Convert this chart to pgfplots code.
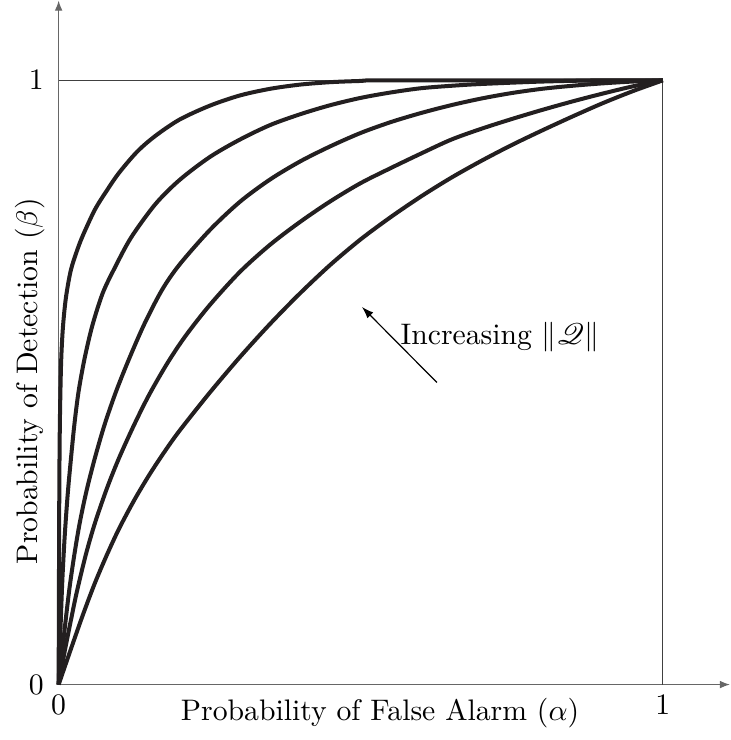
\documentclass[border=0pt]{standalone}
\usepackage{pgfplots}
\pgfplotsset{compat=1.18}
\usepackage{mathrsfs}
\usetikzlibrary{arrows.meta}
\definecolor{curve}{RGB}{35,31,32}
\begin{document}
\begin{tikzpicture}
\begin{axis}[
  x=203.4pt, y=203.4pt,
  xmin=0, xmax=1.111, ymin=0, ymax=1.132,
  axis lines=left,
  axis line style={black!60, line width=0.4pt, -{Latex[length=3.4pt,width=2.6pt]}},
  xtick={0,1}, ytick={0,1},
  major tick length=0pt,
  yticklabel style={xshift=-1.5pt},
  clip=false,
  enlargelimits=false,
]
% frame lines at beta=1 and alpha=1
\addplot[black!75, line width=0.4pt] coordinates {(0,1) (1,1) (1,0)};
% curve 1 (largest ||Q||)
\addplot[curve, line width=1.35pt, smooth] coordinates {
(0,0) (0.001,0.30) (0.002,0.43) (0.004,0.53) (0.007,0.59) (0.012,0.64)
(0.02,0.685) (0.03,0.717) (0.04,0.743) (0.06,0.786) (0.08,0.818) (0.1,0.847)
(0.13,0.882) (0.16,0.908) (0.2,0.935) (0.25,0.958) (0.3,0.975) (0.35,0.986)
(0.4,0.993) (0.45,0.997) (0.5,0.999) (0.55,1) (1,1)};
% curve 2
\addplot[curve, line width=1.35pt, smooth] coordinates {
(0,0) (0.003,0.09) (0.006,0.17) (0.01,0.245) (0.015,0.315) (0.02,0.37)
(0.026,0.43) (0.033,0.485) (0.043,0.54) (0.056,0.595) (0.073,0.648)
(0.093,0.69) (0.12,0.74) (0.16,0.795) (0.2,0.835) (0.25,0.873) (0.3,0.902)
(0.35,0.926) (0.4,0.944) (0.45,0.959) (0.5,0.971) (0.55,0.980) (0.6,0.987)
(0.65,0.991) (0.7,0.994) (0.8,0.998) (0.9,1) (1,1)};
% curve 3
\addplot[curve, line width=1.35pt, smooth] coordinates {
(0,0) (0.005,0.046) (0.011,0.101) (0.018,0.16) (0.026,0.215) (0.035,0.268)
(0.046,0.32) (0.06,0.375) (0.076,0.43) (0.095,0.485) (0.117,0.54)
(0.142,0.597) (0.171,0.653) (0.2,0.695) (0.25,0.752) (0.3,0.799)
(0.35,0.836) (0.4,0.866) (0.45,0.891) (0.5,0.913) (0.55,0.931) (0.6,0.946)
(0.65,0.959) (0.7,0.970) (0.75,0.979) (0.8,0.986) (0.85,0.991) (0.9,0.995)
(0.95,0.998) (1,1)};
% curve 4
\addplot[curve, line width=1.35pt, smooth] coordinates {
(0,0) (0.01,0.055) (0.02,0.105) (0.03,0.153) (0.045,0.215) (0.06,0.267)
(0.08,0.325) (0.1,0.375) (0.125,0.43) (0.15,0.48) (0.18,0.532) (0.21,0.577)
(0.25,0.628) (0.3,0.683) (0.35,0.728) (0.4,0.766) (0.45,0.800) (0.5,0.83)
(0.55,0.855) (0.6,0.879) (0.65,0.902) (0.7,0.920) (0.75,0.936) (0.8,0.951)
(0.85,0.965) (0.9,0.978) (0.95,0.99) (1,1)};
% curve 5 (smallest ||Q||)
\addplot[curve, line width=1.35pt, smooth] coordinates {
(0,0) (0.02,0.058) (0.04,0.115) (0.06,0.168) (0.08,0.215) (0.1,0.258)
(0.125,0.305) (0.15,0.347) (0.175,0.385) (0.2,0.42) (0.25,0.483) (0.3,0.542)
(0.35,0.597) (0.4,0.648) (0.45,0.695) (0.5,0.737) (0.55,0.774) (0.6,0.808)
(0.65,0.839) (0.7,0.867) (0.75,0.893) (0.8,0.917) (0.85,0.940) (0.9,0.962)
(0.95,0.982) (1,1)};
% annotation
\draw[black, line width=0.4pt, -{Latex[length=4pt,width=2.8pt]}] (axis cs:0.626,0.500) -- (axis cs:0.502,0.625);
\node[anchor=base west, inner sep=0pt] at (axis cs:0.565,0.562) {Increasing $\|\mathscr{Q}\|$};
% axis labels
\node[anchor=base, inner sep=4.2pt] at (axis cs:0.532,-0.0588) {Probability of False Alarm ($\alpha$)};
\node[anchor=base, rotate=90, inner sep=5pt] at (axis cs:-0.0356,0.502) {Probability of Detection ($\beta$)};
\end{axis}
\end{tikzpicture}
\end{document}
